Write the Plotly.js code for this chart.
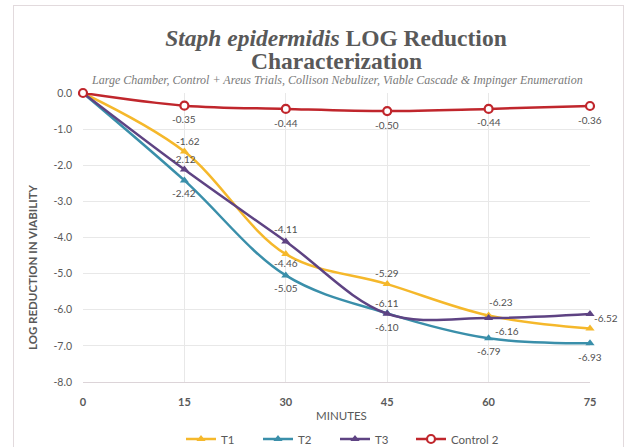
<!DOCTYPE html>
<html><head><meta charset="utf-8">
<script src="https://cdn.plot.ly/plotly-3.0.1.min.js"></script>
<style>
html,body{margin:0;padding:0;background:#fff;}
#frame{position:absolute;left:13px;top:5px;width:609px;height:460px;border:1px solid #e2dadd;pointer-events:none;z-index:5;}
#chart{position:absolute;left:0;top:0;width:627px;height:447px;}
</style></head>
<body>
<div id="chart"></div>
<div id="frame"></div>
<script>
var minutes = [0, 15, 30, 45, 60, 75];
var t1 = [0, -1.62, -4.46, -5.29, -6.16, -6.52];
var t2 = [0, -2.42, -5.05, -6.10, -6.79, -6.93];
var t3 = [0, -2.12, -4.11, -6.11, -6.23, -6.12];
var control2 = [0, -0.35, -0.44, -0.50, -0.44, -0.36];
var yTicks = [0, -1, -2, -3, -4, -5, -6, -7, -8];
var xTicks = [0, 15, 30, 45, 60, 75];

// label offsets in pixels [dx, dy(down)], null = no label
var offT1 = [null, [4, -11], [0, 9], [0, -11], [18, 15], [16, -11]];
var offT2 = [null, [0, 13], [0, 13], [0, 14], [0, 13], [0, 14]];
var offT3 = [null, [0, -11], [0, -12], [0, -11], [12, -16], null];
var offC = [null, [0, 13], [0, 14], [0, 14], [0, 13], [0, 14]];

var cT1 = '#F5B82B', cT2 = '#3A8FAA', cT3 = '#5E4383', cC = '#C0262C';
var sans = 'Lato, "Open Sans", sans-serif';
var serif = '"Liberation Serif", serif';

function tri(name, ys, col) {
  return {x: minutes, y: ys, name: name, type: 'scatter', mode: 'lines+markers',
    cliponaxis: false, legend: 'legend',
    line: {color: col, width: 2.5, shape: 'spline', smoothing: 1},
    marker: {symbol: 'triangle-up', size: 8, color: col}};
}
var traces = [
  tri('T1', t1, cT1),
  tri('T2', t2, cT2),
  tri('T3', t3, cT3),
  {x: minutes, y: control2, name: 'Control 2', type: 'scatter', mode: 'lines+markers',
   cliponaxis: false, legend: 'legend2',
   line: {color: cC, width: 2.5, shape: 'spline', smoothing: 1},
   marker: {symbol: 'circle', size: 8, color: '#ffffff', line: {color: cC, width: 2.2}}}
];

var annotations = [];
function addLabels(ys, offs) {
  ys.forEach(function (v, i) {
    var o = offs[i];
    if (!o) return;
    annotations.push({x: minutes[i], y: v, xref: 'x', yref: 'y', text: v.toFixed(2),
      showarrow: false, xshift: o[0], yshift: -o[1],
      font: {family: sans, size: 10, color: '#505050'}});
  });
}
addLabels(control2, offC);
addLabels(t1, offT1);
addLabels(t2, offT2);
addLabels(t3, offT3);

var PH = 289, PW = 507;
annotations.push({xref: 'paper', yref: 'paper', x: 0.5, y: (382 - 61) / PH, yanchor: 'middle',
  text: '<b>Characterization</b>', showarrow: false,
  font: {family: serif, size: 23.5, color: '#595959'}});
annotations.push({xref: 'paper', yref: 'paper', x: 0.5, y: (382 - 80) / PH, yanchor: 'middle',
  text: '<i>Large Chamber, Control + Areus Trials, Collison Nebulizer, Viable Cascade &amp; Impinger Enumeration</i>',
  showarrow: false, font: {family: serif, size: 12, color: '#7a7a7a'}});
annotations.push({xref: 'paper', yref: 'paper', x: (32 - 83) / PW, y: (382 - 267) / PH,
  xanchor: 'center', yanchor: 'middle', textangle: -90,
  text: '<b>LOG REDUCTION IN VIABILITY</b>', showarrow: false,
  font: {family: sans, size: 11.5, color: '#595959'}});
annotations.push({xref: 'paper', yref: 'paper', x: (341 - 83) / PW, y: -(415 - 382) / PH,
  xanchor: 'center', yanchor: 'middle', text: 'MINUTES', showarrow: false,
  font: {family: sans, size: 11.5, color: '#595959'}});

var legendFont = {family: sans, size: 11.5, color: '#595959'};
var layout = {
  width: 627, height: 447,
  margin: {l: 83, r: 37, t: 93, b: 65, autoexpand: false},
  paper_bgcolor: '#ffffff', plot_bgcolor: '#ffffff',
  title: {text: '<i>Staph epidermidis</i> LOG Reduction',
    x: (336) / 627, xanchor: 'center', y: 1 - 38 / 447, yanchor: 'middle',
    font: {family: serif, size: 23.5, color: '#595959', weight: 'bold'}},
  xaxis: {range: [0, 75], tickvals: xTicks, ticktext: xTicks.map(function (v) { return '<b>' + v + '</b>'; }),
    showgrid: true, gridcolor: '#e8e8e8', gridwidth: 1, zeroline: false,
    showline: true, linecolor: '#dcd4d8', linewidth: 1, ticks: '', ticklabelstandoff: 10,
    tickfont: {family: sans, size: 11, color: '#595959'},
    automargin: false, fixedrange: true},
  yaxis: {range: [-8, 0], tickvals: yTicks, ticktext: yTicks.map(function (v) { return v.toFixed(1); }),
    showgrid: true, gridcolor: '#e8e8e8', gridwidth: 1, zeroline: false, showline: false,
    ticks: '', ticklabelstandoff: 10,
    tickfont: {family: sans, size: 10.5, color: '#595959'},
    automargin: false, fixedrange: true},
  legend: {orientation: 'h', x: (181 - 83) / PW, xanchor: 'left', y: -(439 - 382) / PH, yanchor: 'middle',
    entrywidth: 32, entrywidthmode: 'pixels', itemwidth: 30, font: legendFont},
  legend2: {orientation: 'h', x: (411 - 83) / PW, xanchor: 'left', y: -(439 - 382) / PH, yanchor: 'middle',
    itemwidth: 30, font: legendFont},
  annotations: annotations,
  showlegend: true
};
Plotly.newPlot('chart', traces, layout, {displayModeBar: false, staticPlot: true});
</script>
</body></html>
